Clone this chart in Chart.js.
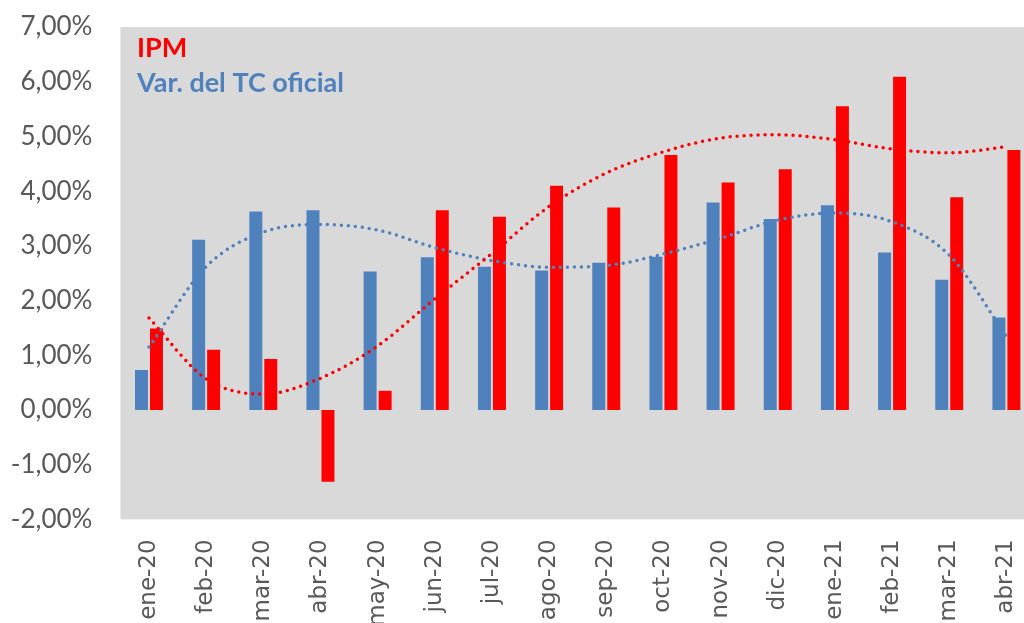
<!DOCTYPE html>
<html>
<head>
<meta charset="utf-8">
<script src="https://cdn.jsdelivr.net/npm/chart.js@4.4.0/dist/chart.umd.min.js"></script>
<style>
html,body{margin:0;padding:0;background:#fff;overflow:hidden;width:1024px;height:623px;}
#wrap{width:1024px;height:623px;overflow:hidden;position:relative;}
canvas{display:block;}
</style>
</head>
<body>
<div id="wrap"><canvas id="c" width="1054" height="623"></canvas></div>
<script>
const categories = ['ene-20','feb-20','mar-20','abr-20','may-20','jun-20','jul-20','ago-20','sep-20','oct-20','nov-20','dic-20','ene-21','feb-21','mar-21','abr-21'];
const tcOficial = [0.73, 3.11, 3.63, 3.65, 2.53, 2.79, 2.62, 2.55, 2.69, 2.80, 3.79, 3.49, 3.74, 2.88, 2.38, 1.69];
const ipm = [1.49, 1.10, 0.93, -1.31, 0.35, 3.65, 3.53, 4.10, 3.70, 4.66, 4.16, 4.40, 5.55, 6.09, 3.89, 4.75];
const ipmTrend = [1.68, 0.57, 0.29, 0.58, 1.17, 2.03, 2.86, 3.72, 4.33, 4.72, 4.97, 5.03, 4.94, 4.77, 4.70, 4.81];
const tcTrend = [1.15, 2.62, 3.25, 3.39, 3.29, 2.97, 2.73, 2.61, 2.64, 2.85, 3.14, 3.47, 3.60, 3.44, 2.83, 1.35];
const legendLabels = ['IPM', 'Var. del TC oficial'];

const BLUE = '#4F81BD';
const RED = '#FF0000';

const bgPlugin = {
  id: 'bg',
  beforeDraw(chart) {
    const a = chart.chartArea, ctx = chart.ctx;
    ctx.save();
    ctx.fillStyle = '#D9D9D9';
    ctx.fillRect(a.left, a.top, a.right - a.left, a.bottom - a.top);
    ctx.restore();
  }
};
const legendPlugin = {
  id: 'inlegend',
  afterDraw(chart) {
    const ctx = chart.ctx;
    ctx.save();
    ctx.font = 'bold 27px Lato';
    ctx.textAlign = 'left';
    ctx.textBaseline = 'alphabetic';
    ctx.fillStyle = RED;
    ctx.fillText(legendLabels[0], 137, 57);
    ctx.fillStyle = BLUE;
    ctx.fillText(legendLabels[1], 137, 92);
    ctx.restore();
  }
};

new Chart(document.getElementById('c'), {
  data: {
    labels: categories,
    datasets: [
      { type: 'line', label: 'Tendencia IPM', data: ipmTrend, borderColor: RED, borderWidth: 3.5,
        borderDash: [0, 7], borderCapStyle: 'round', pointRadius: 0, cubicInterpolationMode: 'monotone', fill: false, order: 0 },
      { type: 'line', label: 'Tendencia TC', data: tcTrend, borderColor: BLUE, borderWidth: 3.5,
        borderDash: [0, 7], borderCapStyle: 'round', pointRadius: 0, cubicInterpolationMode: 'monotone', fill: false, order: 0 },
      { type: 'bar', label: legendLabels[1], data: tcOficial, backgroundColor: BLUE,
        categoryPercentage: 0.524, barPercentage: 0.867, order: 1 },
      { type: 'bar', label: legendLabels[0], data: ipm, backgroundColor: RED,
        categoryPercentage: 0.524, barPercentage: 0.867, order: 1 }
    ]
  },
  options: {
    responsive: false,
    animation: false,
    layout: { padding: { top: 27, left: 0, right: 0, bottom: 0 } },
    plugins: { legend: { display: false }, tooltip: { enabled: false } },
    scales: {
      x: {
        grid: { display: false, drawTicks: false },
        border: { display: false },
        ticks: { autoSkip: false, minRotation: 90, maxRotation: 90, padding: 20,
          color: '#595959', font: { family: 'DejaVu Sans', size: 23 } },
        afterFit(s) { s.height = 103.6; }
      },
      y: {
        min: -2, max: 7,
        grid: { display: false, drawTicks: false },
        border: { display: false },
        ticks: { stepSize: 1, padding: 28, color: '#595959', font: { family: 'Lato', size: 26 },
          callback: v => v.toFixed(2).replace('.', ',') + '%' },
        afterFit(s) { s.width = 120.4; s.paddingTop = 0; s.paddingBottom = 0; }
      }
    }
  },
  plugins: [bgPlugin, legendPlugin]
});
</script>
</body>
</html>
